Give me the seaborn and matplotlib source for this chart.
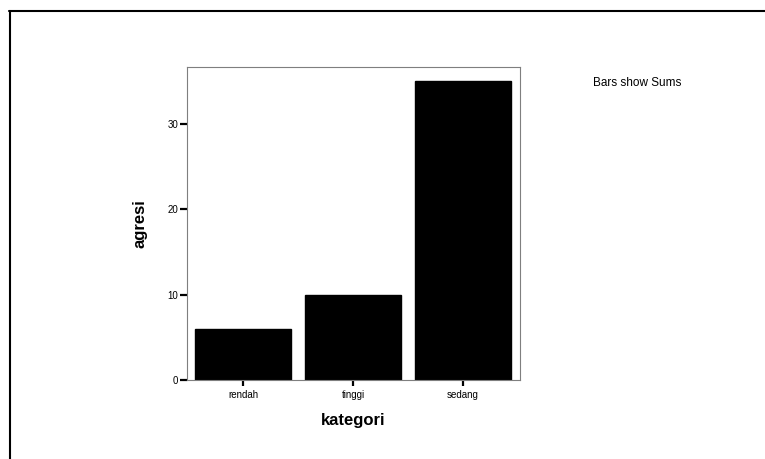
import numpy as np
import pandas as pd
import seaborn as sns
import matplotlib
matplotlib.use('Agg')
import matplotlib.pyplot as plt
from matplotlib.lines import Line2D

# data
kategori = ['rendah', 'tinggi', 'sedang']
agresi = [6, 10, 35]
yticks = [0, 10, 20, 30]

sns.set_style('white')
plt.rcParams['font.family'] = ['Liberation Sans', 'DejaVu Sans']
plt.rcParams['text.color'] = 'black'
plt.rcParams['axes.labelcolor'] = 'black'
plt.rcParams['xtick.color'] = 'black'
plt.rcParams['ytick.color'] = 'black'

df = pd.DataFrame({'kategori': kategori, 'agresi': agresi})

fig = plt.figure(figsize=(7.65, 4.59), dpi=100)
ax = fig.add_axes([187/765, 79/459, 333/765, 313/459])

sns.barplot(data=df, x='kategori', y='agresi', order=kategori, color='black',
            edgecolor='black', width=0.87, saturation=1, errorbar=None, ax=ax)

ax.set_xlim(-0.51, 2.52)
ax.set_ylim(0, 36.7)
ax.set_yticks(yticks)
ax.set_yticklabels([str(t) for t in yticks])

for s in ax.spines.values():
    s.set_visible(True)
    s.set_color('#7f7f7f')
    s.set_linewidth(0.8)

ax.tick_params(axis='y', direction='out', length=5, width=1.6, color='black',
               labelsize=7, pad=1.5, left=True)
ax.tick_params(axis='x', direction='out', length=4.5, width=1.6, color='black',
               labelsize=7, pad=3, bottom=True)

ax.set_xlabel('kategori', fontsize=12, fontweight='bold')
ax.set_ylabel('agresi', fontsize=12, fontweight='bold')
ax.xaxis.set_label_coords(0.5, -0.105)
ax.yaxis.set_label_coords(-0.118, 0.5)

fig.text(593/765, 1 - 83/459, 'Bars show Sums', fontsize=8.5, va='center', ha='left')

# outer frame (top and left edges)
fig.add_artist(Line2D([9/765, 1.0], [1 - 10.5/459, 1 - 10.5/459], color='black', lw=1.5,
                      transform=fig.transFigure))
fig.add_artist(Line2D([9.5/765, 9.5/765], [0, 1 - 10.5/459], color='black', lw=1.5,
                      transform=fig.transFigure))

fig.savefig('out.png', dpi=100)
